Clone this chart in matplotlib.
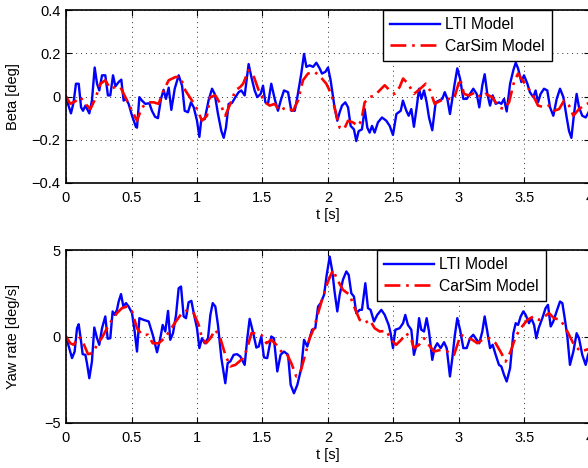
import matplotlib
matplotlib.use("Agg")
import matplotlib.pyplot as plt

plt.rcParams['font.family'] = ['Liberation Sans', 'DejaVu Sans']

# ---- data ----
t_beta_lti = [0.000, 0.015, 0.038, 0.058, 0.076, 0.097, 0.115, 0.130, 0.148, 0.178, 0.198, 0.219, 0.237,
              0.254, 0.275, 0.300, 0.320, 0.338, 0.359, 0.377, 0.402, 0.422, 0.440, 0.458, 0.478, 0.504,
              0.534, 0.542, 0.560, 0.580, 0.606, 0.636, 0.656, 0.680, 0.702, 0.725, 0.745, 0.763, 0.784,
              0.804, 0.830, 0.860, 0.886, 0.906, 0.931, 0.954, 0.975, 1.000, 1.018, 1.033, 1.059, 1.089,
              1.115, 1.135, 1.160, 1.186, 1.204, 1.221, 1.242, 1.267, 1.293, 1.318, 1.338, 1.364, 1.394,
              1.415, 1.440, 1.460, 1.486, 1.504, 1.522, 1.542, 1.567, 1.593, 1.618, 1.639, 1.664, 1.695,
              1.720, 1.746, 1.766, 1.796, 1.817, 1.835, 1.860, 1.886, 1.911, 1.936, 1.954, 1.980, 2.000,
              2.020, 2.050, 2.071, 2.089, 2.107, 2.132, 2.153, 2.173, 2.198, 2.216, 2.234, 2.259, 2.280,
              2.300, 2.318, 2.336, 2.356, 2.381, 2.412, 2.445, 2.471, 2.496, 2.522, 2.555, 2.572, 2.598,
              2.616, 2.636, 2.656, 2.677, 2.695, 2.713, 2.733, 2.753, 2.771, 2.796, 2.822, 2.847, 2.873,
              2.891, 2.911, 2.931, 2.949, 2.967, 2.987, 3.008, 3.033, 3.059, 3.084, 3.109, 3.135, 3.155,
              3.178, 3.196, 3.216, 3.237, 3.257, 3.280, 3.305, 3.323, 3.344, 3.364, 3.390, 3.415, 3.433,
              3.451, 3.476, 3.496, 3.522, 3.541, 3.567, 3.585, 3.603, 3.623, 3.649, 3.674, 3.695, 3.720,
              3.746, 3.771, 3.797, 3.822, 3.840, 3.858, 3.878, 3.898, 3.916, 3.941, 3.967, 3.985, 4.000]
beta_lti = [0.000, -0.034, -0.078, -0.027, 0.059, 0.059, -0.050, -0.066, -0.042, -0.078, -0.019, 0.134, 0.059,
            0.028, 0.098, 0.098, 0.005, 0.005, 0.098, 0.047, 0.067, 0.078, -0.019, -0.011, -0.034, -0.089,
            -0.141, -0.144, -0.003, -0.019, -0.034, -0.031, -0.066, -0.094, -0.100, -0.011, 0.031, -0.011, 0.041,
            -0.062, 0.036, 0.098, 0.050, -0.066, -0.073, -0.027, -0.050, -0.112, -0.187, -0.106, -0.105, -0.016,
            0.036, 0.012, -0.080, -0.160, -0.191, -0.144, -0.034, -0.030, -0.003, 0.020, 0.028, 0.005, 0.150,
            0.090, 0.028, -0.003, 0.012, 0.050, -0.027, -0.034, 0.059, -0.011, -0.066, -0.019, 0.028, 0.020,
            -0.066, -0.066, -0.003, 0.106, 0.197, 0.137, 0.144, 0.137, 0.156, 0.130, 0.106, 0.114, 0.134,
            0.075, -0.050, -0.112, -0.073, -0.042, -0.027, -0.050, -0.136, -0.152, -0.206, -0.160, -0.152, -0.058,
            -0.144, -0.167, -0.136, -0.167, -0.120, -0.097, -0.112, -0.136, -0.178, -0.081, -0.066, -0.019, -0.066,
            -0.089, -0.058, -0.140, -0.050, 0.036, -0.011, 0.028, -0.027, -0.097, -0.156, -0.027, -0.019, -0.011,
            0.020, -0.011, -0.081, -0.011, 0.059, 0.130, 0.083, -0.011, -0.011, 0.012, 0.036, 0.012, -0.050,
            0.052, 0.103, 0.012, -0.042, 0.005, -0.034, -0.027, -0.034, -0.011, -0.069, 0.059, 0.122, 0.156,
            0.130, 0.067, 0.098, 0.059, 0.020, -0.003, 0.028, -0.027, 0.012, 0.036, 0.028, -0.050, -0.089,
            -0.011, 0.036, -0.003, -0.097, -0.160, -0.191, -0.081, 0.012, -0.050, -0.089, -0.097, -0.078, -0.060]

t_beta_cs = [0.000, 0.033, 0.071, 0.109, 0.148, 0.186, 0.224, 0.262, 0.300, 0.338, 0.377, 0.415, 0.453,
             0.504, 0.542, 0.580, 0.631, 0.669, 0.707, 0.745, 0.784, 0.835, 0.873, 0.911, 0.962, 1.000,
             1.038, 1.076, 1.100, 1.140, 1.178, 1.216, 1.254, 1.293, 1.330, 1.352, 1.394, 1.435, 1.471,
             1.517, 1.555, 1.593, 1.630, 1.680, 1.733, 1.771, 1.809, 1.847, 1.898, 1.944, 1.987, 2.025,
             2.056, 2.089, 2.122, 2.153, 2.191, 2.229, 2.254, 2.280, 2.318, 2.356, 2.394, 2.433, 2.471,
             2.509, 2.547, 2.573, 2.611, 2.656, 2.695, 2.746, 2.779, 2.814, 2.860, 2.911, 2.962, 3.008,
             3.038, 3.076, 3.127, 3.165, 3.203, 3.254, 3.305, 3.344, 3.382, 3.420, 3.451, 3.484, 3.522,
             3.560, 3.603, 3.649, 3.687, 3.725, 3.764, 3.802, 3.840, 3.873, 3.916, 3.954, 4.000]
beta_cs = [0.000, -0.034, -0.022, -0.003, -0.034, -0.058, -0.010, 0.059, 0.075, 0.036, 0.044, 0.044, -0.003,
           -0.066, -0.112, -0.050, -0.027, -0.027, -0.034, 0.028, 0.075, 0.090, 0.090, 0.028, -0.019, -0.058,
           -0.112, -0.089, -0.003, 0.005, -0.034, -0.089, -0.034, 0.028, 0.044, 0.059, 0.122, 0.090, 0.028,
           -0.027, -0.042, -0.034, -0.066, -0.050, -0.066, -0.019, 0.075, 0.106, 0.114, 0.090, 0.059, 0.012,
           -0.066, -0.144, -0.152, -0.112, -0.120, -0.136, -0.112, -0.027, -0.003, 0.005, 0.028, 0.052, 0.028,
           0.012, 0.044, 0.083, 0.059, 0.012, 0.031, 0.059, 0.028, -0.034, -0.019, -0.011, -0.011, 0.083,
           0.012, 0.005, 0.020, -0.003, 0.012, -0.003, -0.050, -0.058, -0.027, 0.067, 0.106, 0.075, 0.044,
           0.012, -0.042, -0.050, -0.042, -0.066, -0.058, -0.019, -0.042, -0.089, -0.058, -0.042, -0.027]

t_yaw_lti = [0.000, 0.025, 0.046, 0.066, 0.084, 0.097, 0.115, 0.127, 0.148, 0.160, 0.178, 0.198, 0.216,
             0.237, 0.254, 0.275, 0.300, 0.318, 0.338, 0.356, 0.372, 0.389, 0.402, 0.420, 0.438, 0.458,
             0.478, 0.504, 0.524, 0.542, 0.560, 0.593, 0.631, 0.662, 0.695, 0.720, 0.738, 0.758, 0.779,
             0.796, 0.817, 0.840, 0.860, 0.878, 0.898, 0.916, 0.936, 0.957, 0.975, 1.000, 1.018, 1.038,
             1.059, 1.084, 1.102, 1.120, 1.140, 1.160, 1.186, 1.216, 1.234, 1.254, 1.280, 1.305, 1.330,
             1.364, 1.384, 1.402, 1.420, 1.435, 1.453, 1.471, 1.491, 1.511, 1.536, 1.567, 1.587, 1.613,
             1.638, 1.664, 1.695, 1.715, 1.740, 1.766, 1.796, 1.817, 1.842, 1.860, 1.878, 1.903, 1.924,
             1.944, 1.970, 1.990, 2.013, 2.033, 2.050, 2.071, 2.089, 2.114, 2.140, 2.158, 2.178, 2.198,
             2.216, 2.242, 2.259, 2.285, 2.305, 2.325, 2.351, 2.376, 2.407, 2.433, 2.463, 2.478, 2.496,
             2.514, 2.547, 2.573, 2.590, 2.610, 2.636, 2.656, 2.676, 2.695, 2.712, 2.733, 2.753, 2.771,
             2.796, 2.814, 2.834, 2.860, 2.886, 2.906, 2.931, 2.949, 2.967, 2.987, 3.008, 3.033, 3.059,
             3.084, 3.109, 3.135, 3.155, 3.178, 3.196, 3.216, 3.237, 3.257, 3.280, 3.305, 3.323, 3.344,
             3.364, 3.390, 3.415, 3.433, 3.451, 3.471, 3.491, 3.509, 3.534, 3.552, 3.573, 3.590, 3.608,
             3.636, 3.661, 3.679, 3.700, 3.720, 3.745, 3.771, 3.789, 3.807, 3.827, 3.847, 3.873, 3.898,
             3.916, 3.941, 3.967, 3.985, 4.000]
yaw_lti = [0.00, -0.67, -1.25, -0.87, 0.48, 0.71, -0.29, -1.02, -1.06, -1.54, -2.41, -1.44, 0.52,
           -0.10, -0.48, 0.48, 1.16, -0.13, -0.10, 1.45, 1.25, 1.54, 2.02, 2.45, 1.73, 1.93,
           1.73, 1.35, 0.29, -0.87, 1.06, 0.96, 0.87, 0.10, -0.91, -0.10, 0.67, 0.29, 1.48,
           -0.19, 0.19, 1.25, 2.79, 2.89, 1.16, 1.06, 1.98, 2.06, 1.35, 0.48, -0.67, -0.10,
           -0.39, -0.10, 1.25, 1.93, 1.73, 0.67, -1.25, -2.70, -1.54, -1.44, -1.06, -1.02, -1.15,
           -1.64, -0.10, 1.02, 0.48, 0.00, -0.64, -0.58, 0.00, -1.21, -1.25, 0.00, -0.10, -2.02,
           -1.06, -0.87, -1.06, -2.79, -3.28, -2.79, -1.83, -0.19, -0.58, -0.10, 0.39, 0.48, 1.73,
           1.93, 2.41, 3.56, 4.62, 3.76, 2.60, 1.45, 2.41, 3.28, 3.76, 3.56, 2.50, 2.31,
           1.35, 1.54, 1.54, 3.08, 1.64, 1.54, 0.87, 1.25, 1.54, 1.25, 0.67, 0.19, -0.67,
           0.39, 0.48, 0.77, 1.25, 0.67, 0.39, -1.06, -0.48, 1.06, 0.39, 0.29, 1.06, 0.29,
           -1.35, -0.67, -0.39, -0.67, -0.33, -0.67, -2.31, -1.25, 0.00, 1.06, 0.39, -0.67, -0.67,
           -0.10, 0.10, -0.19, -0.39, 0.29, 1.16, 0.29, -0.67, -0.48, -1.06, -1.64, -1.73, -2.22,
           -2.60, -1.83, 0.19, 0.77, 0.67, 1.16, 1.45, 1.25, 0.77, 1.06, 0.67, -0.10, 0.48,
           1.06, 1.64, 1.83, 0.58, 0.87, 1.45, 2.02, 1.93, 1.06, 0.00, -1.64, -0.87, 0.19,
           -0.10, -1.06, -1.64, -1.06, -0.80]

t_yaw_cs = [0.000, 0.033, 0.059, 0.097, 0.127, 0.168, 0.204, 0.237, 0.275, 0.313, 0.351, 0.389, 0.427,
            0.466, 0.504, 0.542, 0.580, 0.626, 0.662, 0.707, 0.758, 0.804, 0.847, 0.885, 0.931, 0.975,
            1.013, 1.038, 1.069, 1.102, 1.140, 1.178, 1.216, 1.254, 1.293, 1.330, 1.352, 1.384, 1.415,
            1.453, 1.491, 1.530, 1.567, 1.606, 1.644, 1.682, 1.720, 1.758, 1.791, 1.822, 1.860, 1.893,
            1.924, 1.962, 2.000, 2.038, 2.071, 2.114, 2.165, 2.204, 2.242, 2.280, 2.318, 2.356, 2.394,
            2.445, 2.483, 2.520, 2.559, 2.598, 2.636, 2.656, 2.695, 2.733, 2.771, 2.810, 2.860, 2.911,
            2.962, 3.013, 3.060, 3.102, 3.140, 3.178, 3.229, 3.280, 3.323, 3.356, 3.394, 3.433, 3.471,
            3.522, 3.568, 3.611, 3.654, 3.687, 3.725, 3.776, 3.827, 3.878, 3.929, 4.000]
yaw_cs = [0.00, -0.39, -0.48, 0.00, -0.29, -1.02, -0.96, -0.48, -0.06, 0.48, 0.96, 1.35, 1.64,
          1.73, 1.45, 0.48, 0.10, 0.10, -0.39, -0.39, -0.06, 0.48, 0.96, 1.35, 1.54, 1.35,
          0.67, -0.10, -0.39, -0.10, 0.39, -0.10, -1.06, -1.73, -1.64, -1.40, -1.25, -0.67, 0.19,
          0.19, 0.10, -0.39, -0.19, -0.48, -0.87, -0.96, -1.54, -2.31, -2.02, -1.16, -0.10, 0.48,
          1.35, 2.31, 3.18, 3.85, 3.28, 2.70, 2.41, 1.64, 0.96, 0.77, 0.96, 0.48, 0.29,
          0.33, -0.19, -0.48, -0.19, 0.19, -0.19, -0.67, -0.48, -0.10, -0.50, -0.87, -0.77, -0.87,
          -1.06, 0.10, -0.05, -0.19, -0.39, -0.19, -0.10, -0.39, -0.96, -1.45, -0.87, 0.00, 0.48,
          0.96, 1.16, 0.96, 1.16, 1.35, 1.06, 0.96, 0.29, -0.48, -0.87, -0.70]

x_ticks = [0, 0.5, 1, 1.5, 2, 2.5, 3, 3.5, 4]
x_labels = ['0', '0.5', '1', '1.5', '2', '2.5', '3', '3.5', '4']
beta_ticks = [-0.4, -0.2, 0, 0.2, 0.4]
beta_labels = ['\u22120.4', '\u22120.2', '0', '0.2', '0.4']
yaw_ticks = [-5, 0, 5]
yaw_labels = ['\u22125', '0', '5']
series_names = ['LTI Model', 'CarSim Model']

FS = 10.5
W, H = 588, 468


def style_axes(ax, yticks, ylabels, ylabel):
    ax.set_xlim(0, 4)
    ax.set_ylim(yticks[0], yticks[-1])
    ax.set_xticks(x_ticks)
    ax.set_xticklabels(x_labels)
    ax.set_yticks(yticks)
    ax.set_yticklabels(ylabels)
    ax.tick_params(direction='in', length=4, width=0.8, top=True, right=True,
                   labelsize=FS, colors='black')
    ax.tick_params(axis='x', pad=6)
    ax.tick_params(axis='y', pad=4)
    ax.grid(True, color='#333333', linestyle=(0, (1, 4)), linewidth=0.7)
    for s in ax.spines.values():
        s.set_linewidth(1.2)
    ax.set_xlabel('t [s]', fontsize=FS, labelpad=2)
    ax.set_ylabel(ylabel, fontsize=FS)
    ax.yaxis.set_label_coords(-0.088, 0.5)


def plot_pair(ax, t1, y1, t2, y2, leg_x):
    ax.plot(t1, y1, color='#0000ff', lw=1.7, label=series_names[0])
    ax.plot(t2, y2, color='#ff0000', lw=1.9, dashes=(6, 2.2, 1, 2.2), label=series_names[1])
    leg = ax.legend(loc='upper right', bbox_to_anchor=(leg_x, 1.0), borderaxespad=0,
                    fontsize=11.3, frameon=True, fancybox=False, edgecolor='black',
                    framealpha=1, handlelength=3.2, handletextpad=0.35,
                    borderpad=0.45, labelspacing=0.42)
    leg.get_frame().set_linewidth(1.0)


fig = plt.figure(figsize=(W / 100, H / 100), dpi=100)

ax1 = fig.add_axes([66 / W, 1 - 183 / H, 524 / W, 173 / H])
plot_pair(ax1, t_beta_lti, beta_lti, t_beta_cs, beta_cs, (552 - 66) / 524)
style_axes(ax1, beta_ticks, beta_labels, 'Beta [deg]')

ax2 = fig.add_axes([66 / W, 1 - 423 / H, 524 / W, 173 / H])
plot_pair(ax2, t_yaw_lti, yaw_lti, t_yaw_cs, yaw_cs, (546 - 66) / 524)
style_axes(ax2, yaw_ticks, yaw_labels, 'Yaw rate [deg/s]')

fig.savefig('out.png', dpi=100)
